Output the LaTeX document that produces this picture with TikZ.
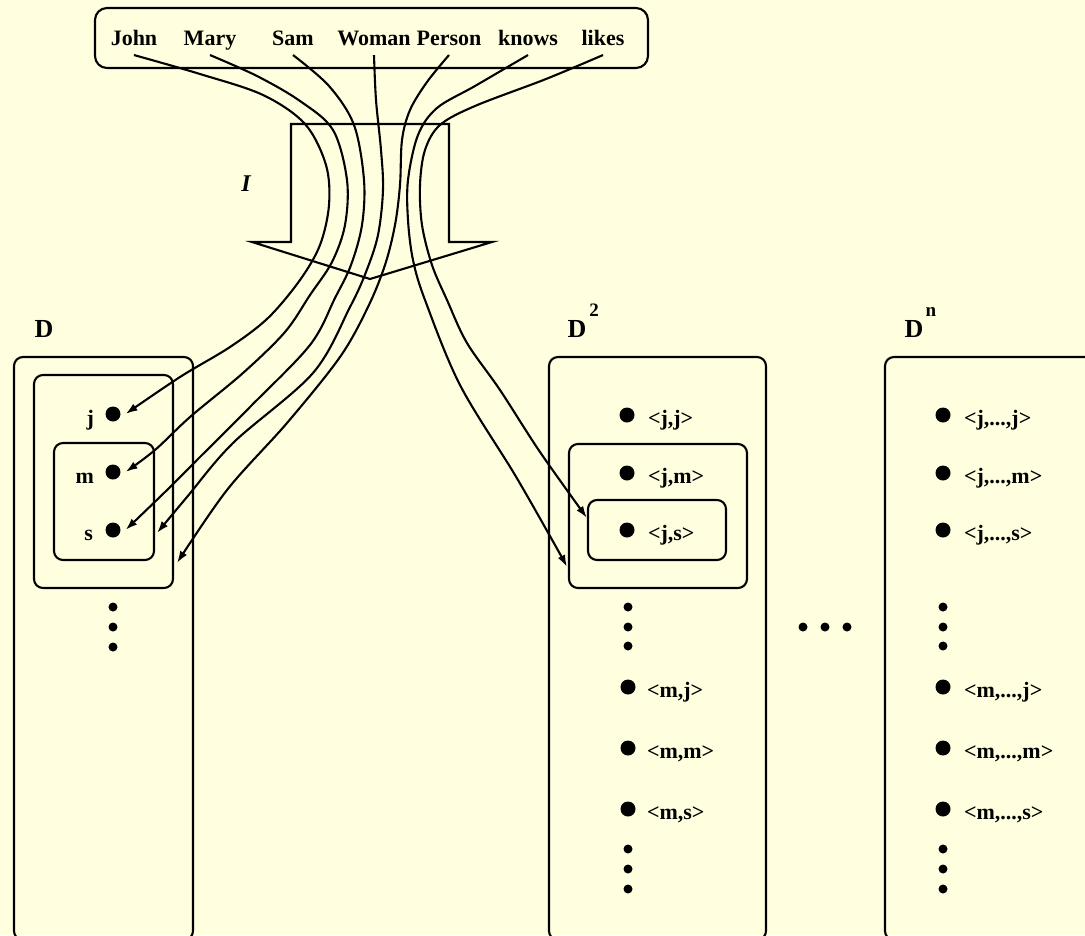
\documentclass[tikz,border=0pt]{standalone}
\usepackage{fontspec}
\setmainfont{Liberation Serif}
\usetikzlibrary{arrows.meta}
\definecolor{bgyellow}{RGB}{255,255,224}
\begin{document}
\begin{tikzpicture}[x=1pt,y=-1pt, line width=2.1pt,
  box/.style={draw, rounded corners=9pt, inner sep=0pt},
  word/.style={font=\fontsize{22}{22}\selectfont\bfseries, text height=15pt, text depth=5pt, inner sep=4pt},
  elab/.style={font=\fontsize{22}{22}\selectfont\bfseries, inner sep=0pt},
  bigdot/.style={circle, fill, inner sep=0pt, minimum size=15pt},
  smalldot/.style={circle, fill, inner sep=0pt, minimum size=9pt},
  setlab/.style={font=\fontsize{26}{26}\selectfont\bfseries, inner sep=0pt},
  suplab/.style={font=\fontsize{19}{19}\selectfont\bfseries, inner sep=0pt},
  map/.style={-{Latex[length=12pt,width=8pt]}, line join=round}
]
\fill[bgyellow] (0,0) rectangle (1085,935);
\useasboundingbox (0,0) rectangle (1085,935);

% vocabulary box
\node[box, rounded corners=12pt, minimum width=553pt, minimum height=60pt] (vocab) at (371.5,38) {};
\node[word] (john) at (134,40) {John};
\node[word] (mary) at (210,40) {Mary};
\node[word] (sam) at (293,40) {Sam};
\node[word] (woman) at (374,40) {Woman};
\node[word] (person) at (449,40) {Person};
\node[word] (knows) at (528,40) {knows};
\node[word] (likes) at (603,40) {likes};

% interpretation block arrow
\draw (291,124) -- (449,124) -- (449,242) -- (492,242) -- (370,279) -- (252,242) -- (291,242) -- cycle;
\node[font=\fontsize{24}{24}\selectfont\bfseries\itshape, inner sep=0pt] (Ilab) at (246,184) {I};

% domain D
\node[setlab] (Dlab) at (44,329) {D};
\node[box, minimum width=179pt, minimum height=583pt] (Dbox) at (103.5,648.5) {};
\node[box, minimum width=139pt, minimum height=213pt] (Dperson) at (103.5,481.5) {};
\node[box, minimum width=100pt, minimum height=117pt] (Dwoman) at (104,501.5) {};
\node[bigdot] (jdot) at (113,414) {};
\node[bigdot] (mdot) at (113,472) {};
\node[bigdot] (sdot) at (113,530) {};
\node[elab, anchor=base east] (jlab) at (95,425) {j};
\node[elab, anchor=base east] (mlab) at (95,483) {m};
\node[elab, anchor=base east] (slab) at (94,540) {s};
\node[smalldot] (Dv1) at (113,607) {};
\node[smalldot] (Dv2) at (113,627) {};
\node[smalldot] (Dv3) at (113,647) {};

% domain D^2
\node[setlab] (D2lab) at (577,329) {D};
\node[suplab] (D2sup) at (594,310) {2};
\node[box, minimum width=217pt, minimum height=583pt] (D2box) at (657.5,648.5) {};
\node[box, minimum width=178pt, minimum height=144pt] (D2knows) at (658,516) {};
\node[box, minimum width=138pt, minimum height=60pt] (D2likes) at (657,530) {};
\node[bigdot] (p1) at (627,415) {};
\node[bigdot] (p2) at (627,473) {};
\node[bigdot] (p3) at (627,530) {};
\node[elab, anchor=base west] (p1l) at (647,425) {<j,j>};
\node[elab, anchor=base west] (p2l) at (647,483) {<j,m>};
\node[elab, anchor=base west] (p3l) at (647,540) {<j,s>};
\node[smalldot] (D2v1) at (628,607) {};
\node[smalldot] (D2v2) at (628,627) {};
\node[smalldot] (D2v3) at (628,646) {};
\node[bigdot] (p4) at (628,687) {};
\node[bigdot] (p5) at (628,748) {};
\node[bigdot] (p6) at (628,809) {};
\node[elab, anchor=base west] (p4l) at (646,697) {<m,j>};
\node[elab, anchor=base west] (p5l) at (646,758) {<m,m>};
\node[elab, anchor=base west] (p6l) at (646,819) {<m,s>};
\node[smalldot] (D2w1) at (628,849) {};
\node[smalldot] (D2w2) at (628,869) {};
\node[smalldot] (D2w3) at (628,889) {};

% horizontal ellipsis
\node[smalldot] (h1) at (803,627) {};
\node[smalldot] (h2) at (825,627) {};
\node[smalldot] (h3) at (847,627) {};

% domain D^n
\node[setlab] (Dnlab) at (914,329) {D};
\node[suplab] (Dnsup) at (931,312) {n};
\node[box, minimum width=225pt, minimum height=583pt] (Dnbox) at (997.5,648.5) {};
\node[bigdot] (q1) at (943,415) {};
\node[bigdot] (q2) at (943,473) {};
\node[bigdot] (q3) at (943,530) {};
\node[elab, anchor=base west] (q1l) at (963,425) {<j,...,j>};
\node[elab, anchor=base west] (q2l) at (963,483) {<j,...,m>};
\node[elab, anchor=base west] (q3l) at (963,540) {<j,...,s>};
\node[smalldot] (Dnv1) at (943,607) {};
\node[smalldot] (Dnv2) at (943,627) {};
\node[smalldot] (Dnv3) at (943,646) {};
\node[bigdot] (q4) at (943,687) {};
\node[bigdot] (q5) at (943,748) {};
\node[bigdot] (q6) at (943,809) {};
\node[elab, anchor=base west] (q4l) at (963,697) {<m,...,j>};
\node[elab, anchor=base west] (q5l) at (963,758) {<m,...,m>};
\node[elab, anchor=base west] (q6l) at (963,819) {<m,...,s>};
\node[smalldot] (Dnw1) at (943,849) {};
\node[smalldot] (Dnw2) at (943,869) {};
\node[smalldot] (Dnw3) at (943,889) {};

% arrow tips
\coordinate (tJ) at ([xshift=4pt]jdot.east);
\coordinate (tM) at ([xshift=4pt]mdot.east);
\coordinate (tS) at ([xshift=4pt]sdot.east);
\coordinate (tW) at (157,533);
\coordinate (tP) at (177,563);
\coordinate (tK) at (567,567);
\coordinate (tL) at (587,518);

% interpretation curves
\draw[map] plot[smooth, tension=0.55] coordinates {(john.south) (200,74) (263,95) (305,124) (326,165) (329,205) (320,245) (300,280) (268,318) (230,347) (180,377) (tJ)};
\draw[map] plot[smooth, tension=0.55] coordinates {(mary.south) (257,76) (300,101) (333,130) (347,180) (345,225) (332,262) (310,295) (285,332) (243,373) (190,417) (155,450) (tM)};
\draw[map] plot[smooth, tension=0.55] coordinates {(sam.south) (329,86) (354,125) (364,180) (362,225) (351,265) (335,298) (310,345) (250,407) (200,457) (165,492) (tS)};
\draw[map] plot[smooth, tension=0.55] coordinates {(woman.south) (376,100) (381,150) (383,190) (378,235) (366,272) (350,307) (313,373) (233,443) (187,497) (tW)};
\draw[map] plot[smooth, tension=0.55] coordinates {(person.south) (427,82) (410,110) (402,140) (400,185) (395,225) (385,265) (368,307) (340,357) (287,423) (227,490) (tP)};
\draw[map] plot[smooth, tension=0.55] coordinates {(knows.south) (475,86) (437,108) (418,135) (408,180) (408,220) (413,260) (425,300) (460,385) (515,475) (555,545) (tK)};
\draw[map] plot[smooth, tension=0.55] coordinates {(likes.south) (546,79) (475,106) (440,125) (425,150) (420,185) (422,225) (432,265) (447,300) (467,343) (500,390) (540,452) (tL)};
\end{tikzpicture}
\end{document}
